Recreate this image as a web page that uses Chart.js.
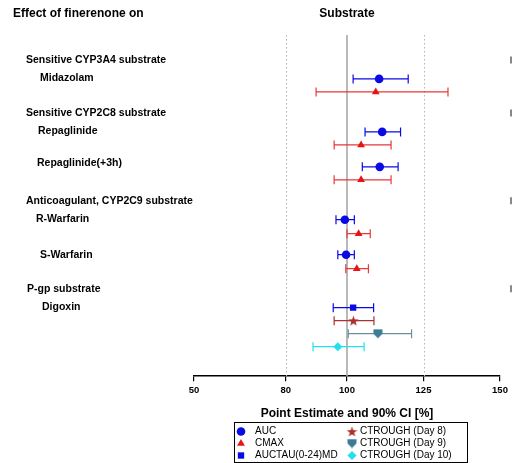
<!DOCTYPE html>
<html>
<head>
<meta charset="utf-8">
<script src="https://cdn.jsdelivr.net/npm/chart.js@4/dist/chart.umd.min.js"></script>
<style>
  body { margin: 0; background: #fff; }
  canvas { display: block; }
</style>
</head>
<body>
<canvas id="myChart" width="514" height="463"></canvas>
<script>
const FONT = "'Liberation Sans', Arial, sans-serif";

// tick labels on the x axis
const xTicks = [50, 80, 100, 125, 150];

// left side labels (group headers and substrates), row position in row units
const headerNames = ['Sensitive CYP3A4 substrate', 'Sensitive CYP2C8 substrate', 'Anticoagulant, CYP2C9 substrate', 'P-gp substrate'];
const headerRows = [1.79, 5.57, 11.86, 18.14];
const drugNames = ['Midazolam', 'Repaglinide', 'Repaglinide(+3h)', 'R-Warfarin', 'S-Warfarin', 'Digoxin'];
const drugRows = [3.07, 6.86, 9.14, 13.14, 15.71, 19.43];

// AUC (Midazolam, Repaglinide, Repaglinide+3h, R-Warfarin, S-Warfarin)
const aucEst = [110.5, 111.5, 110.7, 99.3, 99.7];
const aucLo = [102.0, 105.9, 105.0, 96.4, 97.0];
const aucHi = [120.0, 117.5, 116.7, 102.4, 102.4];
const aucRows = [3.14, 6.93, 9.43, 13.21, 15.71];

// CMAX
const cmaxEst = [109.4, 104.6, 104.6, 103.8, 103.2];
const cmaxLo = [89.9, 95.8, 95.8, 100.0, 99.6];
const cmaxHi = [133.0, 114.4, 114.4, 107.6, 107.0];
const cmaxRows = [4.07, 7.86, 10.36, 14.21, 16.71];

// Digoxin
const auctauEst = [102.0], auctauLo = [95.5], auctauHi = [108.7], auctauRows = [19.5];
const day8Est = [102.1], day8Lo = [95.8], day8Hi = [108.8], day8Rows = [20.43];
const day9Est = [110.1], day9Lo = [100.4], day9Hi = [121.1], day9Rows = [21.36];
const day10Est = [97.0], day10Lo = [88.9], day10Hi = [105.6], day10Rows = [22.29];

// label indents (px)
const headerIndent = [26, 26, 26, 27];
const drugIndent = [40, 38, 37, 36, 40, 42];

// custom marker shapes
function makeMarker(size, color, drawPath) {
  const c = document.createElement('canvas');
  c.width = size; c.height = size;
  const g = c.getContext('2d');
  g.fillStyle = color;
  g.beginPath();
  drawPath(g, size);
  g.closePath();
  g.fill();
  return c;
}
const starImg = makeMarker(11, '#a83232', function(g, s) {
  const cx = s / 2, cy = s / 2 + 0.5, R = s / 2, r = R * 0.42;
  for (let i = 0; i < 10; i++) {
    const rad = i % 2 === 0 ? R : r;
    const a = -Math.PI / 2 + i * Math.PI / 5;
    g.lineTo(cx + rad * Math.cos(a), cy + rad * Math.sin(a));
  }
});
const shieldImg = makeMarker(10, '#3d7c96', function(g, s) {
  g.moveTo(0.5, 0.5);
  g.lineTo(s - 0.5, 0.5);
  g.lineTo(s - 0.5, s * 0.5);
  g.lineTo(s / 2, s - 0.5);
  g.lineTo(0.5, s * 0.5);
});

function series(label, est, lo, hi, rows, color, style, radius) {
  return {
    label: label,
    data: est.map((v, i) => ({ x: v, y: rows[i] })),
    lo: lo,
    hi: hi,
    barColor: color,
    pointStyle: style,
    pointRadius: radius,
    backgroundColor: color,
    borderColor: color,
    borderWidth: 0
  };
}

const datasets = [
  series('AUC', aucEst, aucLo, aucHi, aucRows, '#0a0ae6', 'circle', 4.3),
  series('CMAX', cmaxEst, cmaxLo, cmaxHi, cmaxRows, '#e61414', 'triangle', 4.5),
  series('AUCTAU(0-24)MD', auctauEst, auctauLo, auctauHi, auctauRows, '#0a0ae6', 'rect', 4.5),
  series('CTROUGH (Day 8)', day8Est, day8Lo, day8Hi, day8Rows, '#a83232', starImg, 5),
  series('CTROUGH (Day 9)', day9Est, day9Lo, day9Hi, day9Rows, '#3d7c96', shieldImg, 5),
  series('CTROUGH (Day 10)', day10Est, day10Lo, day10Hi, day10Rows, '#22e0ee', 'rectRot', 4.5)
];
datasets[1].barColor = '#e83838';
datasets[4].barColor = '#6a8fa0';

const forestPlugin = {
  id: 'forest',
  beforeDatasetsDraw(chart) {
    const ctx = chart.ctx, x = chart.scales.x, y = chart.scales.y, area = chart.chartArea;
    ctx.save();
    // reference lines
    ctx.strokeStyle = '#b4b4b4';
    ctx.lineWidth = 1;
    ctx.setLineDash([1.5, 2.5]);
    [80, 125].forEach(v => {
      const px = Math.round(x.getPixelForValue(v)) + 0.5;
      ctx.beginPath(); ctx.moveTo(px, area.top); ctx.lineTo(px, area.bottom); ctx.stroke();
    });
    ctx.setLineDash([]);
    ctx.strokeStyle = '#a8a8a8';
    ctx.lineWidth = 1.6;
    const p100 = x.getPixelForValue(100);
    ctx.beginPath(); ctx.moveTo(p100, area.top); ctx.lineTo(p100, area.bottom); ctx.stroke();

    // confidence intervals
    ctx.lineWidth = 1.2;
    chart.data.datasets.forEach(ds => {
      ctx.strokeStyle = ds.barColor;
      ds.data.forEach((pt, i) => {
        const py = y.getPixelForValue(pt.y);
        const x1 = x.getPixelForValue(ds.lo[i]), x2 = x.getPixelForValue(ds.hi[i]);
        ctx.beginPath();
        ctx.moveTo(x1, py); ctx.lineTo(x2, py);
        ctx.moveTo(x1, py - 4.5); ctx.lineTo(x1, py + 4.5);
        ctx.moveTo(x2, py - 4.5); ctx.lineTo(x2, py + 4.5);
        ctx.stroke();
      });
    });
    ctx.restore();
  },
  afterDraw(chart) {
    const ctx = chart.ctx, x = chart.scales.x, y = chart.scales.y, area = chart.chartArea;
    ctx.save();
    ctx.fillStyle = '#000';
    ctx.textBaseline = 'middle';
    ctx.font = 'bold 12px ' + FONT;
    ctx.textAlign = 'left';
    ctx.fillText('Effect of finerenone on', 13, 14);
    ctx.textAlign = 'center';
    ctx.fillText('Substrate', x.getPixelForValue(100), 14);

    ctx.textAlign = 'left';
    ctx.font = 'bold 10.5px ' + FONT;
    headerNames.forEach((t, i) => ctx.fillText(t, headerIndent[i], y.getPixelForValue(headerRows[i])));
    drugNames.forEach((t, i) => ctx.fillText(t, drugIndent[i], y.getPixelForValue(drugRows[i])));

    // small marks at the right edge
    ctx.strokeStyle = '#888';
    ctx.lineWidth = 2;
    headerRows.forEach(r => {
      const py = y.getPixelForValue(r);
      ctx.beginPath(); ctx.moveTo(area.right + 11, py - 3.5); ctx.lineTo(area.right + 11, py + 3.5); ctx.stroke();
    });

    // legend
    const bx = 234, by = 422, bw = 233, bh = 40;
    ctx.strokeStyle = '#000';
    ctx.lineWidth = 1;
    ctx.strokeRect(bx + 0.5, by + 0.5, bw, bh);
    ctx.font = '10px ' + FONT;
    const order = [[0, 3], [1, 4], [2, 5]];
    order.forEach((pair, row) => {
      const py = by + 9.5 + row * 12;
      pair.forEach((di, col) => {
        const ds = chart.data.datasets[di];
        const mx = col === 0 ? bx + 7 : bx + 118;
        const tx = col === 0 ? bx + 21 : bx + 126;
        ctx.fillStyle = ds.backgroundColor;
        Chart.helpers.drawPoint(ctx, {
          pointStyle: ds.pointStyle, radius: ds.pointRadius, rotation: 0, borderWidth: 0
        }, mx, py);
        ctx.fillStyle = '#000';
        ctx.fillText(ds.label, tx, py);
      });
    });
    ctx.restore();
  }
};

new Chart(document.getElementById('myChart').getContext('2d'), {
  type: 'scatter',
  data: { datasets: datasets },
  plugins: [forestPlugin],
  options: {
    responsive: false,
    animation: false,
    layout: { padding: { left: 194, right: 14, top: 35, bottom: 42 } },
    plugins: { legend: { display: false }, tooltip: { enabled: false } },
    scales: {
      x: {
        type: 'linear',
        min: 50,
        max: 150,
        afterBuildTicks: scale => { scale.ticks = xTicks.map(v => ({ value: v })); },
        grid: { drawOnChartArea: false, drawTicks: true, tickLength: 5, color: '#000', lineWidth: 1.2 },
        border: { display: true, color: '#000', width: 1.5 },
        ticks: { font: { family: FONT, size: 9.5, weight: 'bold' }, color: '#000', padding: 3, maxRotation: 0, autoSkip: false },
        title: {
          display: true,
          text: 'Point Estimate and 90% CI [%]',
          font: { family: FONT, size: 12, weight: 'bold' },
          color: '#000',
          padding: { top: 8, bottom: 0 }
        }
      },
      y: { type: 'linear', display: false, reverse: true, min: 0, max: 24.4 }
    }
  }
});
</script>
</body>
</html>
